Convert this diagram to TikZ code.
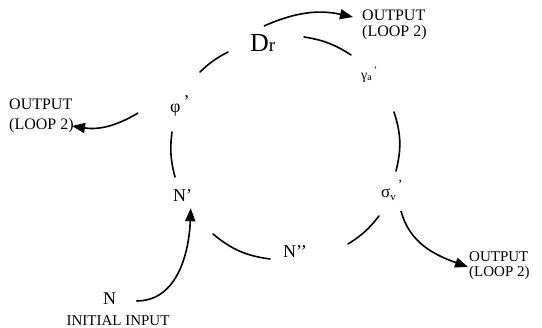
\documentclass[tikz,border=0pt]{standalone}
\usepackage{fontspec}
\setmainfont{Liberation Serif}
\usetikzlibrary{arrows.meta}
\begin{document}
\begin{tikzpicture}[x=1pt,y=1pt,
  lbl/.style={inner sep=0pt, anchor=base west},
  outlbl/.style={inner sep=0pt, align=left, anchor=west},
  seg/.style={line width=1.6pt, line cap=round},
  arr/.style={line width=1.6pt, -{Triangle[length=13pt,width=10pt]}},
]
\useasboundingbox (0,0) rectangle (542,-328);
% labels
\node[lbl] (Dr) at (250,-52) {\fontsize{26}{26}\selectfont D\fontsize{19}{19}\selectfont r};
\node[lbl] (gam) at (361,-80) {\fontsize{14}{14}\selectfont γ\raisebox{-1pt}{\fontsize{10}{10}\selectfont a}\hspace{2pt}\raisebox{6pt}{\fontsize{10}{10}\selectfont ’}};
\node[lbl] (sig) at (381,-198) {\fontsize{17}{17}\selectfont σ\raisebox{-3pt}{\fontsize{11}{11}\selectfont v}\hspace{2pt}\raisebox{8pt}{\fontsize{14}{14}\selectfont ’}};
\node[lbl] (Npp) at (283,-258) {\fontsize{18}{18}\selectfont N’’};
\node[lbl] (Np) at (173,-202) {\fontsize{18}{18}\selectfont N’};
\node[lbl] (phi) at (170,-113) {\fontsize{18}{18}\selectfont φ\hspace{3pt}\raisebox{5pt}{’}};
\node[lbl] (N) at (103,-305) {\fontsize{18}{18}\selectfont N};
\node[inner sep=0pt, anchor=base] (init) at (118,-326) {\fontsize{15}{15}\selectfont INITIAL INPUT};
\node[outlbl, font=\fontsize{16}{15.5}\selectfont] (outT) at (362,-25) {OUTPUT\\(LOOP 2)};
\node[outlbl, font=\fontsize{16}{20}\selectfont] (outL) at (9,-116) {OUTPUT\\(LOOP 2)};
\node[outlbl, font=\fontsize{15}{15}\selectfont] (outR) at (469,-266) {OUTPUT\\(LOOP 2)};
% ring segments
\coordinate (a1) at (304,-37);  \coordinate (a2) at (351,-55);
\coordinate (b1) at (394,-112); \coordinate (b2) at (396,-171);
\coordinate (c1) at (379,-216); \coordinate (c2) at (348,-244);
\coordinate (d1) at (270,-259); \coordinate (d2) at (213,-234);
\coordinate (e1) at (175,-177); \coordinate (e2) at (172,-132);
\coordinate (f1) at (200,-72);  \coordinate (f2) at (228,-52);
\draw[seg] (a1) to[bend left=12] (a2);
\draw[seg] (b1) to[bend left=16] (b2);
\draw[seg] (c1) to[bend left=10] (c2);
\draw[seg] (d1) to[bend left=16] (d2);
\draw[seg] (e1) to[bend left=11] (e2);
\draw[seg] (f1) to[bend left=8] (f2);
% output arrows
\coordinate (t1) at (264,-26);
\coordinate (t2) at (353,-17);
\draw[arr] (t1) to[bend left=18] (t2);
\coordinate (l1) at (138,-113);
\coordinate (l2) at (72,-126);
\draw[arr] (l1) to[bend left=20] (l2);
\coordinate (r1) at (401,-211);
\coordinate (r2) at (468,-267);
\draw[arr] (r1) to[out=-75,in=160] (r2);
\draw[arr] ([xshift=20pt,yshift=4pt]N.base east) to[out=0,in=-92] ([xshift=8pt,yshift=-6pt]Np.south);
\end{tikzpicture}
\end{document}
